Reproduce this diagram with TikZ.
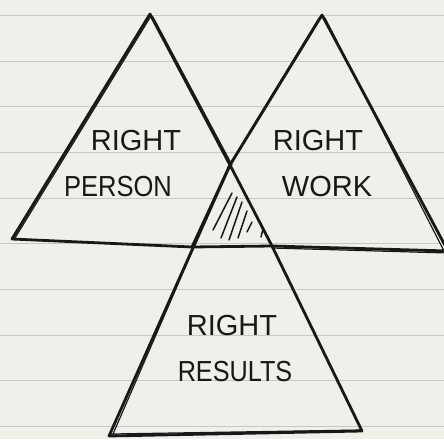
\documentclass[tikz,border=0pt]{standalone}
\usepackage{fontspec}
\setmainfont{Liberation Sans}
\usetikzlibrary{calc}
\definecolor{paper}{RGB}{241,239,234}
\definecolor{rule}{RGB}{200,199,196}
\definecolor{ink}{RGB}{24,24,24}
\tikzset{
  pen/.style={draw=ink,line width=2.8pt,line cap=round,line join=round},
  pen2/.style={draw=ink,line width=1.2pt,line cap=round,line join=round},
  hatchline/.style={draw=ink,line width=1.5pt,line cap=round},
  ruleline/.style={draw=rule,line width=1pt},
  label/.style={text=ink,font=\fontsize{29}{32}\selectfont,inner sep=0pt,anchor=center}
}
\begin{document}
\begin{tikzpicture}[x=1pt,y=-1pt]
\useasboundingbox (0,0) rectangle (444,439);
\clip (0,0) rectangle (444,439);
\fill[paper] (0,0) rectangle (444,439);
% ruled paper lines
\foreach \k in {0,...,9}{
  \draw[ruleline] (0,{15.3+45.7*\k}) -- (444,{15.3+45.7*\k});
}
% vertices
\coordinate (LA) at (150,14);
\coordinate (LB) at (12,239);
\coordinate (RA) at (322,15);
\coordinate (RC) at (448,251);
\coordinate (X) at (230,165);
\coordinate (M1) at (192,247);
\coordinate (M2) at (272,246);
\coordinate (BB) at (109,436);
\coordinate (BC) at (362,431);
% left triangle
\draw[pen] (LB) -- (LA) -- (X) -- (M2) -- (BC);
\draw[pen2] ($(LB)+(3,-1)$) -- ($(LA)+(1,2)$);
\draw[pen2] ($(LA)+(3,3)$) -- ($(X)+(2,0)$);
% base line (left + right triangles)
\draw[pen] (LB) -- (M1) -- (M2) -- (RC);
\draw[pen2] ($(M2)+(0,2)$) -- ($(RC)+(0,2)$);
% right triangle
\draw[pen] (RC) -- (RA) -- (X) -- (M1);
\draw[pen2] ($(RA)+(-3,3)$) -- ($(X)+(-2,2)$);
\draw[pen2] ($(RA)+(3,3)$) -- ($(RC)+(-4,0)$);
% bottom triangle
\draw[pen] (X) -- (BB) -- (BC);
\draw[pen2] ($(X)+(-3,6)$) -- ($(BB)+(4,-2)$);
\draw[pen2] ($(BB)+(2,-2)$) -- ($(BC)+(0,-1)$);
% hatching of the central overlap
\draw[hatchline] (232,193) -- (213,230);
\draw[hatchline] (237,197) -- (221,238);
\draw[hatchline] (242,202) -- (229,240);
\draw[hatchline] (247,211) -- (238,238);
\draw[hatchline] (252,222) -- (247,232);
\draw[hatchline] (263,229) -- (261,237);
% labels
\node[label] (p1) at (136,141) {RIGHT};
\node[label] (p2) at (118,187) {\scalebox{0.88}[1]{PERSON}};
\node[label] (w1) at (318,141) {RIGHT};
\node[label] (w2) at (327,187) {WORK};
\node[label] (r1) at (232,326) {RIGHT};
\node[label] (r2) at (235,372) {\scalebox{0.87}[1]{RESULTS}};
\end{tikzpicture}
\end{document}
